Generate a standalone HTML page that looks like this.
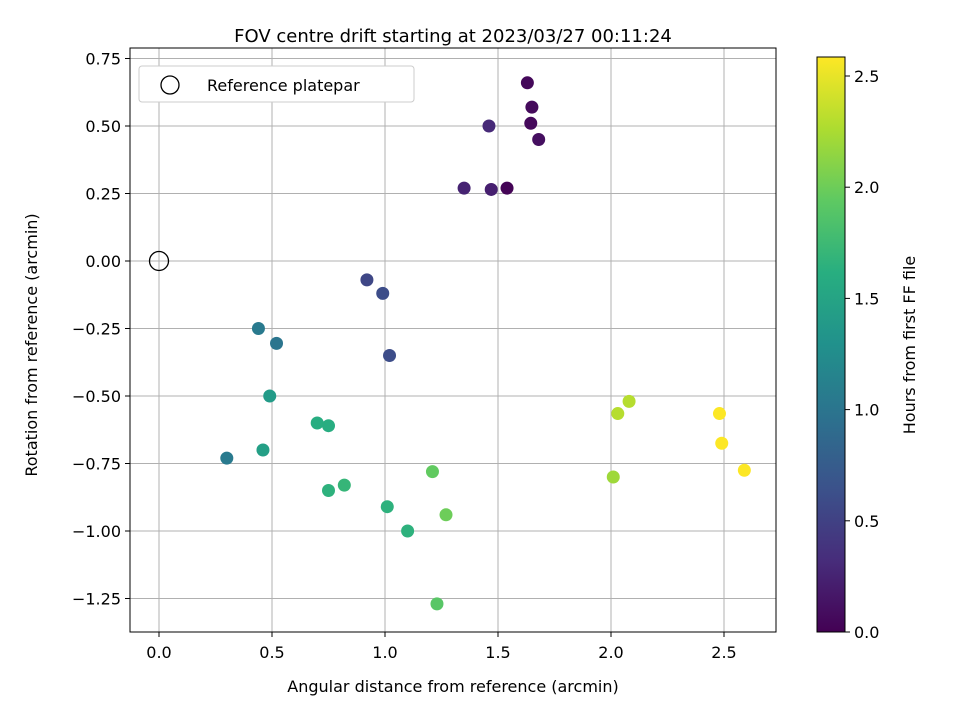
<!DOCTYPE html>
<html><head><meta charset="utf-8"><style>
body{margin:0;background:#fff;font-family:"Liberation Sans","DejaVu Sans",sans-serif;}
svg text{font-family:"DejaVu Sans","Liberation Sans",sans-serif;}
</style></head><body>
<svg id="chart" width="960" height="720" viewBox="0 0 960 720">
<defs><linearGradient id="vir" x1="0" y1="1" x2="0" y2="0">
<stop offset="0" stop-color="#440154"/><stop offset="0.125" stop-color="#472d7b"/><stop offset="0.25" stop-color="#3b528b"/><stop offset="0.375" stop-color="#2c728e"/><stop offset="0.5" stop-color="#21918c"/><stop offset="0.625" stop-color="#28ae80"/><stop offset="0.75" stop-color="#5ec962"/><stop offset="0.875" stop-color="#addc30"/><stop offset="1" stop-color="#fde725"/></linearGradient></defs>
<text x="453" y="42" text-anchor="middle" font-size="18">FOV centre drift starting at 2023/03/27 00:11:24</text>
<g id="grid"></g><g id="pts"></g><g id="axes"></g>
<rect x="130" y="48" width="646" height="584" fill="none" stroke="#000" stroke-width="1"/>
<g>
<rect x="139" y="66" width="275" height="36" rx="3" fill="#fff" stroke="#ccc"/>
<circle cx="170" cy="85" r="9" fill="none" stroke="#000" stroke-width="1.3"/>
<text x="207" y="91" font-size="16">Reference platepar</text></g>
<text x="453" y="692" text-anchor="middle" font-size="16">Angular distance from reference (arcmin)</text>
<text transform="translate(37,345) rotate(-90)" text-anchor="middle" font-size="16">Rotation from reference (arcmin)</text>
<rect x="817" y="57" width="28" height="575" fill="url(#vir)" stroke="#000"/>
<g id="cbticks"></g>
<text transform="translate(915,345) rotate(-90)" text-anchor="middle" font-size="16">Hours from first FF file</text>
</svg>
<script>
const xs=[1.63,1.65,1.645,1.68,1.46,1.35,1.47,1.54,0.92,0.99,1.02,0.44,0.52,0.30,0.49,0.46,0.70,0.75,0.75,0.82,1.01,1.10,1.21,1.27,1.23,2.03,2.08,2.01,2.48,2.49,2.59];
const ys=[0.66,0.57,0.51,0.45,0.50,0.27,0.265,0.27,-0.07,-0.12,-0.35,-0.25,-0.305,-0.73,-0.50,-0.70,-0.60,-0.61,-0.85,-0.83,-0.91,-1.00,-0.78,-0.94,-1.27,-0.565,-0.52,-0.80,-0.565,-0.675,-0.775];
const hours=[0.05,0.07,0.06,0.1,0.3,0.25,0.22,0.02,0.55,0.6,0.6,1.05,1.0,1.05,1.4,1.45,1.6,1.6,1.65,1.7,1.65,1.65,1.95,2.0,1.9,2.3,2.3,2.2,2.58,2.58,2.58];
const xTicks=[0,0.5,1.0,1.5,2.0,2.5];
const yTicks=[0.75,0.5,0.25,0,-0.25,-0.5,-0.75,-1.0,-1.25];
const cTicks=[0,0.5,1.0,1.5,2.0,2.5];
const X=v=>159+v*226, Y=v=>261-v*270, C=v=>632-v*222.4, HMAX=2.585;
const vir=[[68,1,84],[71,45,123],[59,82,139],[44,114,142],[33,145,140],[40,174,128],[94,201,98],[173,220,48],[253,231,37]];
function col(t){t=Math.max(0,Math.min(1,t))*8;const i=Math.min(7,Math.floor(t)),f=t-i,a=vir[i],b=vir[i+1];return `rgb(${a.map((v,k)=>Math.round(v+(b[k]-v)*f)).join(',')})`;}
const NS='http://www.w3.org/2000/svg';
function mk(t,at,p){const e=document.createElementNS(NS,t);for(const k in at)e.setAttribute(k,at[k]);document.getElementById(p).appendChild(e);return e;}
const fy=v=>(v<0?'\u2212':'')+Math.abs(v).toFixed(2);
xTicks.forEach(v=>{const g=mk('line',{x1:X(v),x2:X(v),y1:48,y2:632,stroke:'#b0b0b0','stroke-width':1},'grid');


const t=mk('line',{x1:X(v),x2:X(v),y1:632,y2:637,stroke:'#000'},'axes');


const l=mk('text',{x:X(v),y:658,'text-anchor':'middle','font-size':16},'axes');l.textContent=v.toFixed(1);

});
yTicks.forEach(v=>{const g=mk('line',{x1:130,x2:776,y1:Y(v),y2:Y(v),stroke:'#b0b0b0','stroke-width':1},'grid');


const t=mk('line',{x1:125,x2:130,y1:Y(v),y2:Y(v),stroke:'#000'},'axes');


const l=mk('text',{x:121,y:Y(v)+6,'text-anchor':'end','font-size':16},'axes');l.textContent=fy(v);

});
cTicks.forEach(v=>{const t=mk('line',{x1:845,x2:850,y1:C(v),y2:C(v),stroke:'#000'},'cbticks');


const l=mk('text',{x:854,y:C(v)+6,'font-size':16},'cbticks');l.textContent=v.toFixed(1);

});
xs.forEach((x,i)=>{const c=mk('circle',{cx:X(x),cy:Y(ys[i]),r:6.5,fill:col(hours[i]/HMAX)},'pts');

});
const r=mk('circle',{cx:X(0),cy:Y(0),r:9.5,fill:'none',stroke:'#000','stroke-width':1.3},'pts');


</script>
</body></html>
